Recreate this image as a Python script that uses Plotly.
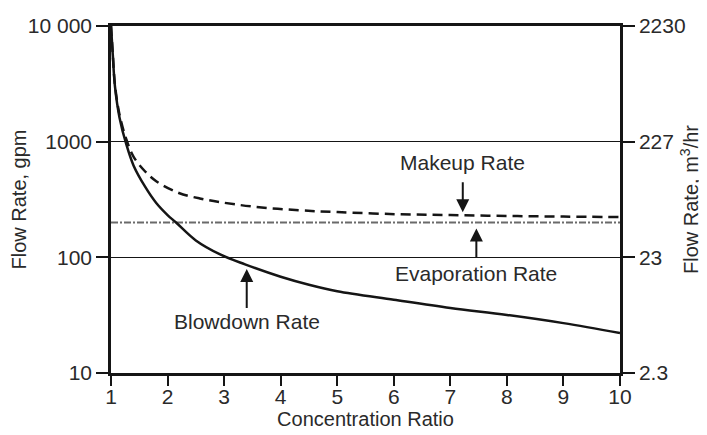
import plotly.graph_objects as go

# Concentration ratio (x) values and flow rates in gpm
blowdown_x = [1.0, 1.03, 1.07, 1.15, 1.27, 1.4, 1.6, 1.8, 2.0, 2.15, 2.5, 2.93, 3.37, 4.0, 4.5, 5.0, 6.0, 7.0, 8.0, 9.0, 10.0]
blowdown_y = [10000, 5800, 3000, 1620, 950, 620, 410, 295, 232, 200, 140, 106, 87, 68, 58, 51, 43, 36.5, 31.8, 27, 22.2]

makeup_x = [1.0, 1.03, 1.07, 1.15, 1.27, 1.4, 1.6, 1.8, 2.2, 2.57, 2.93, 3.5, 4.34, 5.0, 6.05, 7.0, 8.0, 9.0, 10.0]
makeup_y = [10000, 5900, 3100, 1720, 1050, 740, 555, 455, 360, 323, 300, 275, 255, 246, 236, 232, 228, 225, 223]

evap_x = [1.0, 10.0]
evap_y = [200, 200]

x_ticks = [1, 2, 3, 4, 5, 6, 7, 8, 9, 10]
y_ticks = [10, 100, 1000, 10000]
y_ticktext_gpm = ["10", "100", "1000", "10 000"]
y_ticktext_m3 = ["2.3", "23", "227", "2230"]

FONT = "Liberation Sans, Arial, sans-serif"
TXT = "#2a2a2a"
LINE = "#151515"

fig = go.Figure()
fig.add_trace(go.Scatter(x=evap_x, y=evap_y, mode="lines",
                         line=dict(color="#6a6a6a", width=2, dash="7px,2px,2px,2px"),
                         hoverinfo="skip"))
fig.add_trace(go.Scatter(x=makeup_x, y=makeup_y, mode="lines", line_shape="spline",
                         line=dict(color=LINE, width=2.5, dash="10px,6px"),
                         hoverinfo="skip"))
fig.add_trace(go.Scatter(x=blowdown_x, y=blowdown_y, mode="lines", line_shape="spline",
                         line=dict(color=LINE, width=2.5),
                         hoverinfo="skip"))
# helper trace so the right axis is drawn
fig.add_trace(go.Scatter(x=[1], y=[100], yaxis="y2", mode="markers",
                         marker=dict(opacity=0), hoverinfo="skip"))

fig.update_layout(
    width=699, height=427,
    margin=dict(l=103, r=87, t=18, b=62, autoexpand=False),
    plot_bgcolor="white", paper_bgcolor="white",
    showlegend=False,
    font=dict(family=FONT, size=21, color=TXT),
    xaxis=dict(range=[1, 10], tickvals=x_ticks, ticks="outside", ticklen=10, tickwidth=2,
               tickcolor=LINE, showline=True, linewidth=2.5, linecolor=LINE, mirror=True,
               showgrid=False, zeroline=False, automargin=False, ticklabelstandoff=-7,
               title=dict(text="Concentration Ratio", standoff=2, font=dict(size=20))),
    yaxis=dict(type="log", range=[1, 4], tickvals=y_ticks, ticktext=y_ticktext_gpm,
               ticks="outside", ticklen=12, tickwidth=2, tickcolor=LINE,
               showline=True, linewidth=2.5, linecolor=LINE, automargin=False,
               showgrid=True, gridcolor=LINE, gridwidth=1.3, zeroline=False,
               title=dict(text="Flow Rate, gpm", standoff=0, font=dict(size=20))),
    yaxis2=dict(type="log", range=[1, 4], tickvals=y_ticks, ticktext=y_ticktext_m3,
                overlaying="y", side="right", ticks="outside", ticklen=12, tickwidth=2,
                tickcolor=LINE, showline=True, linewidth=2.5, linecolor=LINE,
                showgrid=False, zeroline=False, automargin=False,
                title=dict(text="Flow Rate, m<sup>3</sup>/hr", standoff=0, font=dict(size=20))),
)

arrow_style = dict(showarrow=True, arrowhead=2, arrowsize=1.3, arrowwidth=2,
                   arrowcolor=LINE, xref="x", yref="y", ax=0)
annos = [
    dict(text="Makeup Rate", x=7.22, y=2.39, ay=-50, startstandoff=7, **arrow_style),
    dict(text="Evaporation Rate", x=7.46, y=2.25, ay=45, startstandoff=3, **arrow_style),
    dict(text="Blowdown Rate", x=3.4, y=1.9, ay=53, startstandoff=1, **arrow_style),
]
fig.update_layout(annotations=annos)

fig.write_html("out.html")
